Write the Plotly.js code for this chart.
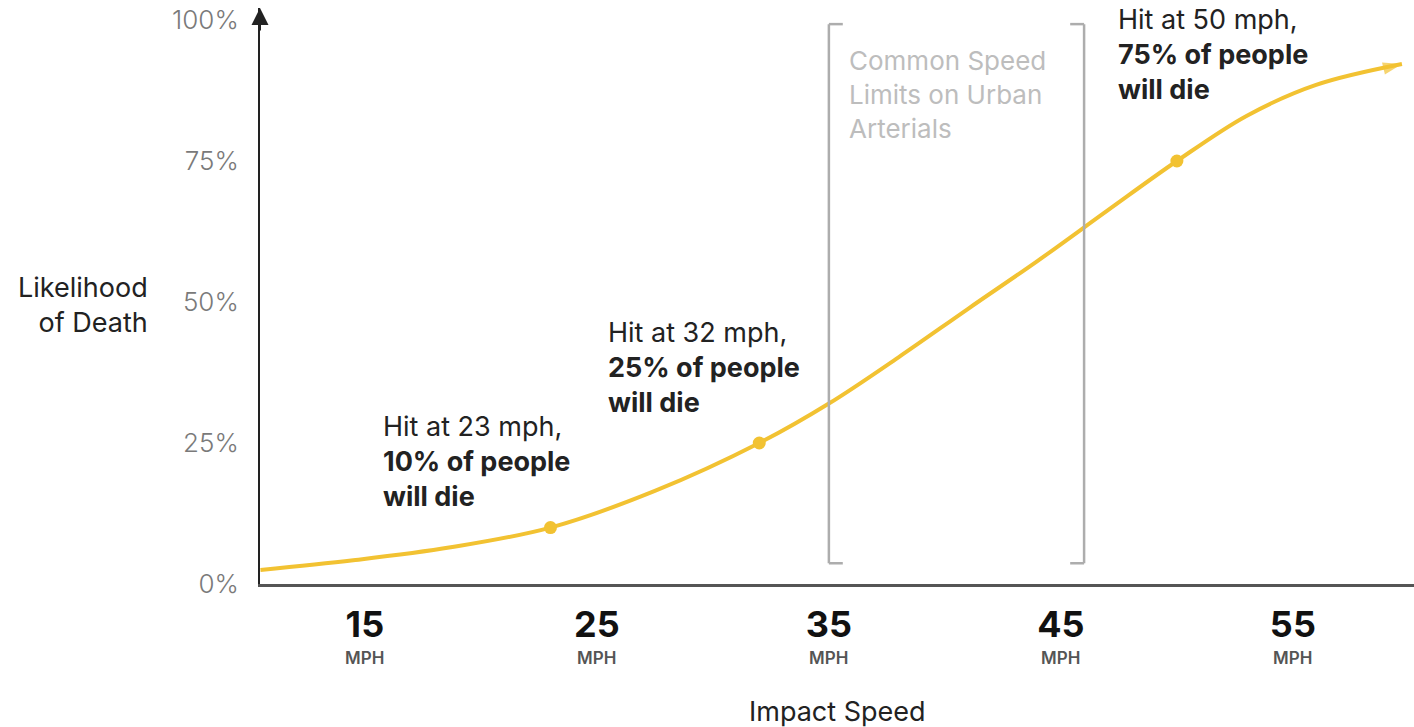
<!DOCTYPE html>
<html>
<head>
<meta charset="utf-8">
<script src="https://cdn.plot.ly/plotly-3.0.1.min.js"></script>
<style>
  html, body { margin: 0; padding: 0; background: #ffffff; }
  #chart { width: 1414px; height: 727px; }
</style>
</head>
<body>
<div id="chart"></div>
<script>
// Pedestrian fatality risk by vehicle impact speed
const curveSpeed = [10.5, 14.5, 18.7, 23, 27.5, 32, 35, 38, 41, 44, 47, 50, 53, 56, 59.7];
const curveDeath = [2.5, 4.2, 6.5, 10, 16.5, 25, 32, 40.2, 48.8, 57.3, 66.2, 75, 83, 88.5, 92.2];

const keySpeed = [23, 32, 50];
const keyDeath = [10, 25, 75];

const speedTicks = [15, 25, 35, 45, 55];
const speedTickText = ['15', '25', '35', '45', '55'];
const deathTicks = [0, 25, 50, 75, 100];
const deathTickText = ['0%', '25%', '50%', '75%', '100%'];

const urbanLimitRange = [35, 46];

const YELLOW = '#F2C232';
const FONT = 'Inter, "DejaVu Sans", sans-serif';

const n = curveSpeed.length;
const curve = {
  x: curveSpeed,
  y: curveDeath,
  type: 'scatter',
  mode: 'lines+markers',
  line: { color: YELLOW, width: 4, shape: 'spline', smoothing: 1 },
  marker: {
    color: YELLOW,
    symbol: curveSpeed.map((_, i) => (i === n - 1 ? 'arrow' : 'circle')),
    size: curveSpeed.map((_, i) => (i === n - 1 ? 20 : 0)),
    angleref: 'previous',
    line: { width: 0 }
  },
  hoverinfo: 'skip',
  showlegend: false
};

const keyPoints = {
  x: keySpeed,
  y: keyDeath,
  type: 'scatter',
  mode: 'markers',
  marker: { color: YELLOW, size: 13, line: { width: 0 } },
  showlegend: false
};

// callout texts beside each highlighted point
const callouts = [
  { lines: ['Hit at 23 mph,', '<b>10% of people</b>', '<b>will die</b>'], x: 0.1049, y: 0.2135 },
  { lines: ['Hit at 32 mph,', '<b>25% of people</b>', '<b>will die</b>'], x: 0.2998, y: 0.3767 },
  { lines: ['Hit at 50 mph,', '<b>75% of people</b>', '<b>will die</b>'], x: 0.7418, y: 0.9200 }
];

const annotations = callouts.map(c => ({
  xref: 'paper', yref: 'paper', x: c.x, y: c.y,
  xanchor: 'left', yanchor: 'middle', align: 'left',
  text: c.lines.join('<br>'), showarrow: false,
  font: { family: FONT, size: 27, color: '#222222' }
}));

annotations.push({
  xref: 'paper', yref: 'paper', x: 0.5087, y: 0.8505,
  xanchor: 'left', yanchor: 'middle', align: 'left',
  text: 'Common Speed<br>Limits on Urban<br>Arterials', showarrow: false,
  font: { family: FONT, size: 26, color: '#BDBDBD' }
});

annotations.push({
  xref: 'paper', yref: 'paper', x: -0.0953, y: 0.485,
  xanchor: 'right', yanchor: 'middle', align: 'right',
  text: 'Likelihood<br>of Death', showarrow: false,
  font: { family: FONT, size: 27, color: '#222222' }
});

annotations.push({
  xref: 'paper', yref: 'paper', x: 0.5, y: -0.222,
  xanchor: 'center', yanchor: 'middle',
  text: 'Impact Speed', showarrow: false,
  font: { family: FONT, size: 27, color: '#222222' }
});

// unit label under each speed tick
speedTicks.forEach(v => {
  annotations.push({
    xref: 'x', yref: 'paper', x: v, y: -0.129,
    xanchor: 'center', yanchor: 'middle',
    text: 'MPH', showarrow: false,
    font: { family: FONT, size: 17, color: '#555555', weight: 600 }
  });
});

// arrowhead at the top of the vertical axis
annotations.push({
  xref: 'paper', yref: 'paper', x: 0, y: 1,
  ax: 0, ay: 24, text: '', showarrow: true,
  arrowhead: 2, arrowsize: 1.7, arrowwidth: 2, arrowcolor: '#222222', standoff: 0
});

// bracket marking the usual arterial speed limits
const BR = '#ADADAD';
const brTop = 0.972, brBot = 0.036;
const shapes = [
  { type: 'line', xref: 'x', yref: 'paper', x0: urbanLimitRange[0], x1: urbanLimitRange[0], y0: brBot, y1: brTop, line: { color: BR, width: 2.5 } },
  { type: 'line', xref: 'x', yref: 'paper', x0: urbanLimitRange[0], x1: urbanLimitRange[0] + 0.6, y0: brTop, y1: brTop, line: { color: BR, width: 2.5 } },
  { type: 'line', xref: 'x', yref: 'paper', x0: urbanLimitRange[0], x1: urbanLimitRange[0] + 0.6, y0: brBot, y1: brBot, line: { color: BR, width: 2.5 } },
  { type: 'line', xref: 'x', yref: 'paper', x0: urbanLimitRange[1], x1: urbanLimitRange[1], y0: brBot, y1: brTop, line: { color: BR, width: 2.5 } },
  { type: 'line', xref: 'x', yref: 'paper', x0: urbanLimitRange[1] - 0.6, x1: urbanLimitRange[1], y0: brTop, y1: brTop, line: { color: BR, width: 2.5 } },
  { type: 'line', xref: 'x', yref: 'paper', x0: urbanLimitRange[1] - 0.6, x1: urbanLimitRange[1], y0: brBot, y1: brBot, line: { color: BR, width: 2.5 } }
];

const layout = {
  width: 1414,
  height: 727,
  margin: { l: 260, r: 0, t: 8, b: 143, pad: 0 },
  paper_bgcolor: '#ffffff',
  plot_bgcolor: '#ffffff',
  showlegend: false,
  xaxis: {
    range: [10.48, 60.22],
    tickvals: speedTicks,
    ticktext: speedTickText,
    ticks: '',
    ticklabelstandoff: 7,
    tickfont: { family: FONT, size: 36, color: '#111111', weight: 700 },
    showgrid: false,
    zeroline: false,
    showline: true,
    linecolor: '#555555',
    linewidth: 3,
    fixedrange: true
  },
  yaxis: {
    range: [0, 102.13],
    tickvals: deathTicks,
    ticktext: deathTickText,
    ticks: '',
    ticklabelstandoff: 14,
    tickfont: { family: FONT, size: 26, color: '#7A7A7A', weight: 300 },
    showgrid: false,
    zeroline: false,
    showline: true,
    linecolor: '#222222',
    linewidth: 2,
    fixedrange: true
  },
  annotations: annotations,
  shapes: shapes
};

Plotly.newPlot('chart', [curve, keyPoints], layout, { displayModeBar: false, staticPlot: true });
</script>
</body>
</html>
